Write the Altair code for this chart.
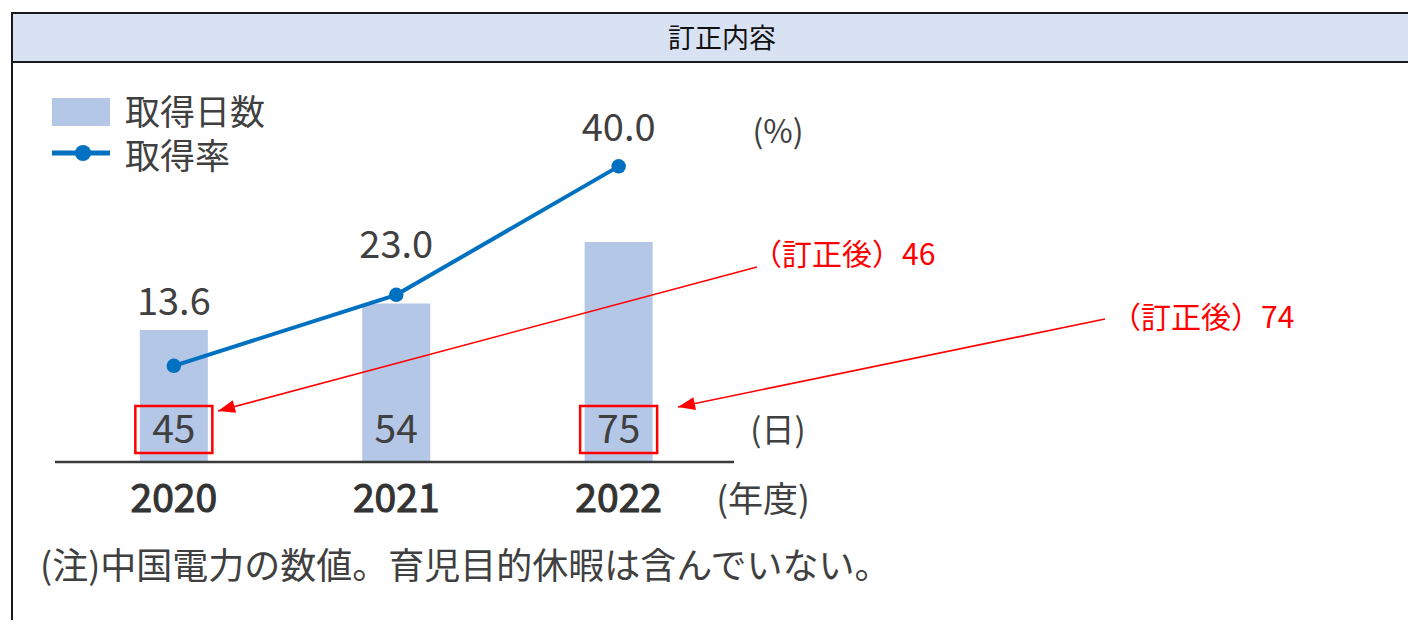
import altair as alt
import pandas as pd

# ---- data ----
years = [2020, 2021, 2022]
days = [45, 54, 75]
rates = [13.6, 23.0, 40.0]
rate_labels = ["13.6", "23.0", "40.0"]
corr_years = [2020, 2022]
corr_values = [46, 74]
legend_labels = ["取得日数", "取得率"]
header_text = "訂正内容"
note_text = "(注)中国電力の数値。育児目的休暇は含んでいない。"
unit_labels = ["(%)", "(日)", "(年度)"]

# ---- style ----
W, H = 1400, 612
FONT = "Noto Sans CJK JP"
BAR = "#B4C7E7"
LINE = "#0070C0"
TXT = "#404040"
RED = "#FF0000"
FRAME = "#1a1a1a"

df = pd.DataFrame({"year": years, "days": days, "rate": rates, "rate_label": rate_labels})
corr = pd.DataFrame({"year": corr_years, "value": corr_values})
one = pd.DataFrame({"k": [0]})

xs = alt.Scale(domain=[2019.2768, 2025.5268], nice=False, zero=False)
X = alt.X("year:Q", scale=xs, axis=None)
ydays = alt.Scale(domain=[-53.87, 154.79], nice=False, zero=False)
yrate = alt.Scale(domain=[-20.04, 60.96], nice=False, zero=False)

layers = []

# header band and frame
layers.append(alt.Chart(one).mark_rect(color="#D9E2F3").encode(
    x=alt.value(4), x2=alt.value(W), y=alt.value(5), y2=alt.value(54)))
for yy in (5, 54):
    layers.append(alt.Chart(one).mark_rule(color=FRAME, strokeWidth=2).encode(
        x=alt.value(4), x2=alt.value(W), y=alt.value(yy)))
layers.append(alt.Chart(one).mark_rule(color=FRAME, strokeWidth=2).encode(
    x=alt.value(4), y=alt.value(4), y2=alt.value(H)))
layers.append(alt.Chart(one).mark_text(font=FONT, fontSize=27, color="#111111",
                                       baseline="middle", align="center").encode(
    x=alt.value(714), y=alt.value(32), text=alt.value(header_text)))

# bars
layers.append(alt.Chart(df).mark_bar(size=68, color=BAR).encode(
    x=X, y=alt.Y("days:Q", scale=ydays, axis=None), y2=alt.datum(0)))

# baseline
layers.append(alt.Chart(one).mark_rule(color="#3a3a3a", strokeWidth=2.5).encode(
    x=alt.value(47), x2=alt.value(726), y=alt.value(454)))

# day values inside bars
layers.append(alt.Chart(df).mark_text(font=FONT, fontSize=39, color=TXT,
                                      baseline="middle", align="center").encode(
    x=X, y=alt.value(423), text="days:Q"))

# year labels (medium-looking weight)
layers.append(alt.Chart(df).mark_text(font=FONT, fontSize=39, color="#333333",
                                      stroke="#333333", strokeWidth=1.1,
                                      baseline="middle", align="center").encode(
    x=X, y=alt.value(492), text="year:N"))

# line + points
layers.append(alt.Chart(df).mark_line(color=LINE, strokeWidth=4).encode(
    x=X, y=alt.Y("rate:Q", scale=yrate, axis=None)))
layers.append(alt.Chart(df).mark_point(filled=True, color=LINE, size=210, opacity=1).encode(
    x=X, y=alt.Y("rate:Q", scale=yrate, axis=None)))

# rate labels
for yr, dy in zip(years, [-62, -48, -36]):
    layers.append(alt.Chart(df).transform_filter(alt.datum.year == yr).mark_text(
        font=FONT, fontSize=38, color=TXT, baseline="middle", align="center", dy=dy).encode(
        x=X, y=alt.Y("rate:Q", scale=yrate, axis=None), text="rate_label:N"))

# legend
layers.append(alt.Chart(one).mark_rect(color=BAR).encode(
    x=alt.value(44), x2=alt.value(102), y=alt.value(90), y2=alt.value(118)))
layers.append(alt.Chart(one).mark_rule(color=LINE, strokeWidth=5).encode(
    x=alt.value(44), x2=alt.value(102), y=alt.value(145)))
layers.append(alt.Chart(one).mark_point(filled=True, color=LINE, size=260, opacity=1).encode(
    x=alt.value(75), y=alt.value(145)))
for lab, yy in zip(legend_labels, [106, 150]):
    layers.append(alt.Chart(one).mark_text(font=FONT, fontSize=35, color=TXT,
                                           baseline="middle", align="left").encode(
        x=alt.value(117), y=alt.value(yy), text=alt.value(lab)))

# units
for lab, xx, yy, fs in zip(unit_labels, [770, 770, 755], [125, 424, 493], [32, 33, 35]):
    layers.append(alt.Chart(one).mark_text(font=FONT, fontSize=fs, color=TXT,
                                           baseline="middle", align="center").encode(
        x=alt.value(xx), y=alt.value(yy), text=alt.value(lab)))

# footnote
layers.append(alt.Chart(one).mark_text(font=FONT, fontSize=36, color=TXT,
                                       baseline="middle", align="left").encode(
    x=alt.value(32), y=alt.value(560), text=alt.value(note_text)))

# red correction boxes
layers.append(alt.Chart(corr).mark_bar(size=77, fillOpacity=0, stroke=RED, strokeWidth=2.5).encode(
    x=X, y=alt.value(398), y2=alt.value(445)))

# red annotations
ann = [(2020, 744, 248, 749, 259, 210, 403, 255.0),
       (2022, 1103, 311, 1097, 311, 670, 399, 258.4)]
for yr, tx, ty, x1, y1, x2, y2, ang in ann:
    layers.append(alt.Chart(corr).transform_filter(alt.datum.year == yr).transform_calculate(
        lab="'（訂正後）' + datum.value").mark_text(
        font=FONT, fontSize=30, color=RED, baseline="middle", align="left").encode(
        x=alt.value(tx), y=alt.value(ty), text="lab:N"))
    layers.append(alt.Chart(one).mark_rule(color=RED, strokeWidth=1.6).encode(
        x=alt.value(x1), y=alt.value(y1), x2=alt.value(x2), y2=alt.value(y2)))
    layers.append(alt.Chart(one).mark_point(shape="M0,0L-0.38,1L0.38,1Z", filled=True,
                                            color=RED, size=1156, opacity=1, angle=ang).encode(
        x=alt.value(x2), y=alt.value(y2)))

chart = alt.layer(*layers).resolve_scale(y="independent").properties(
    width=W, height=H, padding=0, autosize=alt.AutoSizeParams(type="none")
).configure_view(stroke=None)

chart.save("out.html", embed_options={"renderer": "svg", "actions": False})
